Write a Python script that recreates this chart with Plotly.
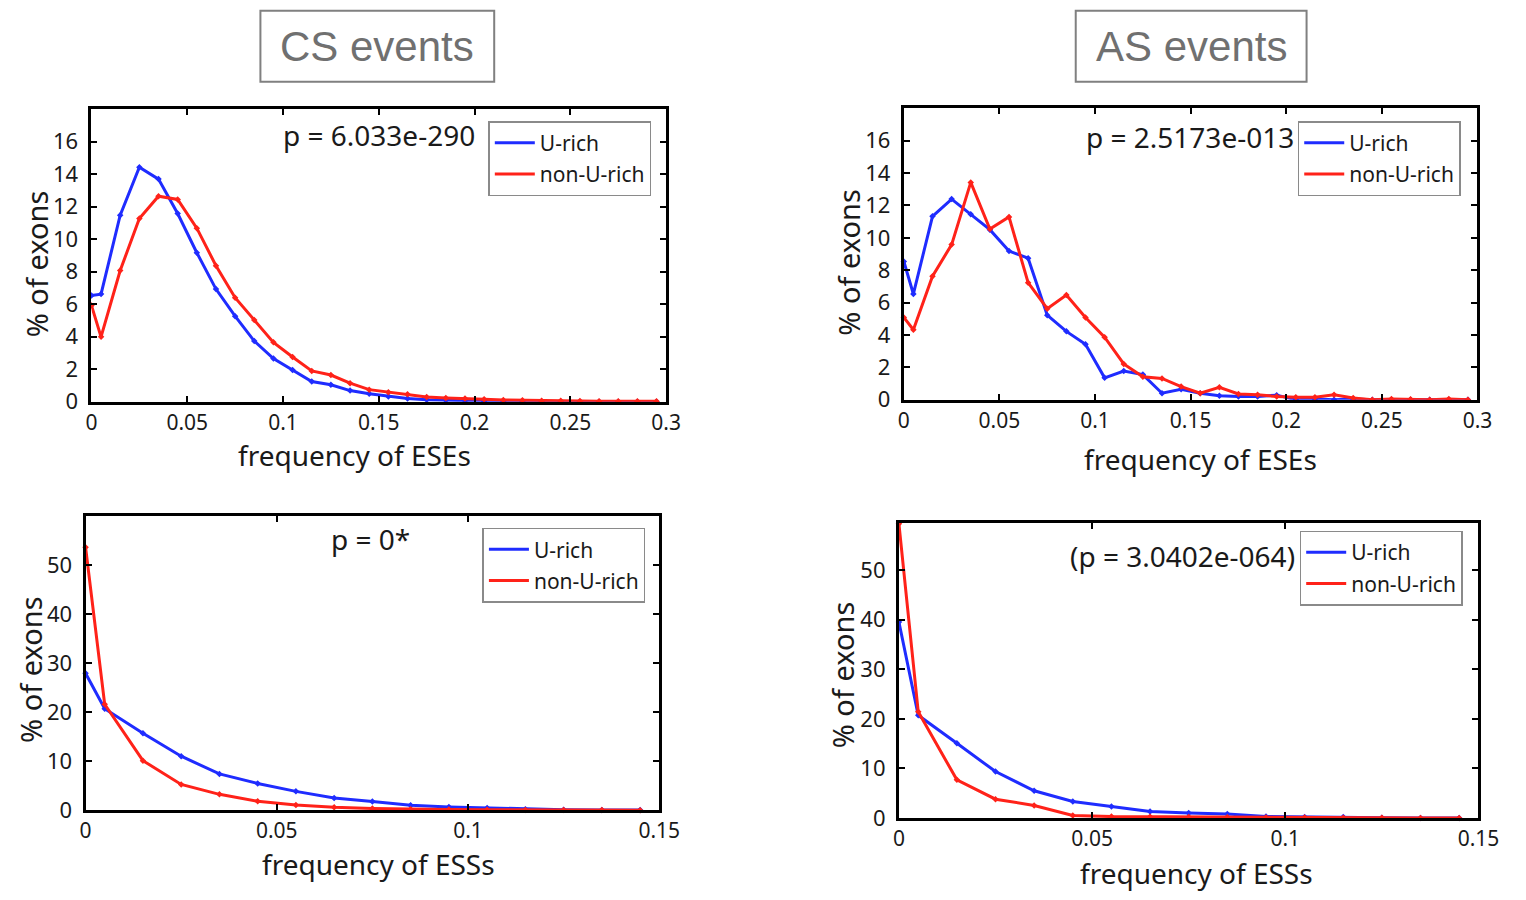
import plotly.graph_objects as go

# ---------------- data ----------------
ese_x = [0, 0.005, 0.015, 0.025, 0.035, 0.045, 0.055, 0.065, 0.075, 0.085, 0.095,
         0.105, 0.115, 0.125, 0.135, 0.145, 0.155, 0.165, 0.175, 0.185, 0.195,
         0.205, 0.215, 0.225, 0.235, 0.245, 0.255, 0.265, 0.275, 0.285, 0.295]
ess_x = [0, 0.005, 0.015, 0.025, 0.035, 0.045, 0.055, 0.065, 0.075, 0.085, 0.095,
         0.105, 0.115, 0.125, 0.135, 0.145]

cs_ese_urich = [6.54, 6.62, 11.48, 14.43, 13.7, 11.58, 9.17, 6.93, 5.26, 3.73, 2.65,
                1.95, 1.24, 1.04, 0.68, 0.48, 0.32, 0.2, 0.12, 0.08, 0.05,
                0.03, 0.02, 0.01, 0.01, 0.0, 0.0, 0.0, 0.0, 0.0, 0.0]
cs_ese_nonurich = [5.92, 3.99, 8.07, 11.28, 12.65, 12.45, 10.68, 8.37, 6.4, 5.02, 3.65,
                   2.75, 1.89, 1.64, 1.14, 0.74, 0.58, 0.45, 0.28, 0.22, 0.2,
                   0.15, 0.1, 0.08, 0.06, 0.05, 0.04, 0.03, 0.03, 0.02, 0.02]
as_ese_urich = [8.54, 6.53, 11.33, 12.39, 11.45, 10.5, 9.18, 8.74, 5.22, 4.22, 3.42,
                1.35, 1.77, 1.55, 0.4, 0.64, 0.4, 0.24, 0.2, 0.2, 0.28,
                0.0, 0.05, 0.0, 0.05, 0.0, 0.0, 0.0, 0.0, 0.0, 0.0]
as_ese_nonurich = [5.08, 4.32, 7.63, 9.58, 13.42, 10.54, 11.29, 7.23, 5.62, 6.47, 5.08,
                   3.86, 2.21, 1.41, 1.31, 0.81, 0.4, 0.77, 0.35, 0.3, 0.2,
                   0.15, 0.15, 0.3, 0.1, 0.0, 0.05, 0.02, 0.0, 0.05, 0.0]
cs_ess_urich = [27.9, 20.7, 15.7, 11.0, 7.4, 5.45, 3.84, 2.5, 1.75, 1.0, 0.67,
                0.47, 0.2, 0.1, 0.05, 0.02]
cs_ess_nonurich = [53.6, 21.6, 10.1, 5.25, 3.23, 1.82, 1.08, 0.6, 0.34, 0.2, 0.13,
                   0.1, 0.05, 0.03, 0.02, 0.01]
as_ess_urich = [39.5, 20.7, 15.06, 9.37, 5.49, 3.35, 2.34, 1.34, 1.0, 0.8, 0.33,
                0.2, 0.2, 0.05, 0.03, 0.02]
as_ess_nonurich = [59.3, 21.4, 7.7, 3.8, 2.54, 0.54, 0.3, 0.25, 0.2, 0.15, 0.1,
                   0.1, 0.08, 0.05, 0.03, 0.02]

series_names = ["U-rich", "non-U-rich"]
p_labels = ["p = 6.033e-290", "p = 2.5173e-013", "p = 0*", "(p = 3.0402e-064)"]
group_titles = ["CS events", "AS events"]
x_titles = ["frequency of ESEs", "frequency of ESEs", "frequency of ESSs", "frequency of ESSs"]
y_title = "% of exons"

ese_xticks = [0, 0.05, 0.1, 0.15, 0.2, 0.25, 0.3]
ese_xticklabels = ["0", "0.05", "0.1", "0.15", "0.2", "0.25", "0.3"]
ess_xticks = [0, 0.05, 0.1, 0.15]
ess_xticklabels = ["0", "0.05", "0.1", "0.15"]
ese_yticks = [0, 2, 4, 6, 8, 10, 12, 14, 16]
ess_yticks = [0, 10, 20, 30, 40, 50]

# ---------------- layout helpers ----------------
W, H = 1526, 900
BLUE = "#1f2cff"
RED = "#ff2219"
FONT = "Noto Sans"
TXT = "#1a1a1a"


def px(x):
    return x / W


def py(y):
    return 1 - y / H


# panel boxes in pixels: (left, right, top, bottom)
boxes = [(87, 672, 111, 408), (914, 1498, 110, 406), (81, 665, 524, 823), (909, 1499, 531, 831)]
legend_pos = [(491, 123), (1315, 123), (485, 536), (1317, 539)]
p_pos = [(380, 137), (1205, 139), (371, 548), (1198, 565)]
xtitle_pos = [(355, 462), (1216, 466), (379, 878), (1212, 887)]
ytitle_pos = [(31, 268), (858, 266), (25, 680), (851, 685)]

panels = [
    (ese_x, cs_ese_urich, cs_ese_nonurich, [0, 0.3], [0, 18], ese_xticks, ese_xticklabels, ese_yticks),
    (ese_x, as_ese_urich, as_ese_nonurich, [0, 0.3], [0, 18], ese_xticks, ese_xticklabels, ese_yticks),
    (ess_x, cs_ess_urich, cs_ess_nonurich, [0, 0.15], [0, 60], ess_xticks, ess_xticklabels, ess_yticks),
    (ess_x, as_ess_urich, as_ess_nonurich, [0, 0.15], [0, 59.5], ess_xticks, ess_xticklabels, ess_yticks),
]

fig = go.Figure()
layout = dict(
    width=W, height=H, margin=dict(l=0, r=0, t=0, b=0),
    paper_bgcolor="white", plot_bgcolor="white",
    font=dict(family=FONT, color=TXT),
    shapes=[], annotations=[],
)


def ann(x, y, text, size, family=FONT, color=TXT, angle=0):
    return dict(x=px(x), y=py(y), xref="paper", yref="paper", text=text,
                showarrow=False, xanchor="center", yanchor="middle", textangle=angle,
                borderpad=0, font=dict(family=family, size=size, color=color))


for i, (xs, ub, nr, xr, yr, xt, xtl, yt) in enumerate(panels):
    n = i + 1
    xa = "x" if n == 1 else f"x{n}"
    ya = "y" if n == 1 else f"y{n}"
    leg = "legend" if n == 1 else f"legend{n}"
    for name, vals, col in ((series_names[0], ub, BLUE), (series_names[1], nr, RED)):
        fig.add_trace(go.Scatter(x=xs, y=vals, mode="lines", name=name,
                                 line=dict(color=col, width=3), xaxis=xa, yaxis=ya,
                                 legend=leg, legendgroup=f"{name}{n}", cliponaxis=False))
        fig.add_trace(go.Scatter(x=xs, y=vals, mode="markers", name=name, showlegend=False,
                                 marker=dict(symbol="diamond", size=5, color=col),
                                 xaxis=xa, yaxis=ya, cliponaxis=False))
    l, r, t, b = boxes[i]
    axcommon = dict(showline=True, linewidth=3, linecolor="black", mirror="ticks",
                    ticks="inside", ticklen=6, tickwidth=2, tickcolor="black",
                    showgrid=False, zeroline=False)
    layout["xaxis" if n == 1 else f"xaxis{n}"] = dict(
        domain=[px(l), px(r)], range=xr, anchor=ya, tickvals=xt, ticktext=xtl,
        ticklabelstandoff=0, tickfont=dict(family=FONT, size=21, color=TXT), **axcommon)
    layout["yaxis" if n == 1 else f"yaxis{n}"] = dict(
        domain=[py(b), py(t)], range=yr, anchor=xa, tickvals=yt,
        ticklabelstandoff=6, tickfont=dict(family=FONT, size=22, color=TXT), **axcommon)
    lx, ly = legend_pos[i]
    layout[leg] = dict(x=px(lx), y=py(ly), xanchor="left", yanchor="top",
                       bordercolor="#8a8a8a", borderwidth=1.5, bgcolor="white",
                       font=dict(family=FONT, size=21, color=TXT),
                       tracegroupgap=1, itemwidth=40)
    layout["annotations"].append(ann(*p_pos[i], p_labels[i], 28))
    layout["annotations"].append(ann(*xtitle_pos[i], x_titles[i], 28))
    layout["annotations"].append(ann(*ytitle_pos[i], y_title, 29, angle=-90))

# group title boxes
title_boxes = [(259, 497, 11, 83), (1089, 1324, 11, 83)]
for (l, r, t, b), txt in zip(title_boxes, group_titles):
    layout["shapes"].append(dict(type="rect", xref="paper", yref="paper",
                                 x0=px(l), x1=px(r), y0=py(b), y1=py(t),
                                 line=dict(color="#808080", width=2), fillcolor="white", layer="below"))
    layout["annotations"].append(ann((l + r) / 2, (t + b) / 2, txt, 42,
                                     family="Liberation Sans", color="#707070"))

fig.update_layout(**layout)
fig.write_html("out.html")
